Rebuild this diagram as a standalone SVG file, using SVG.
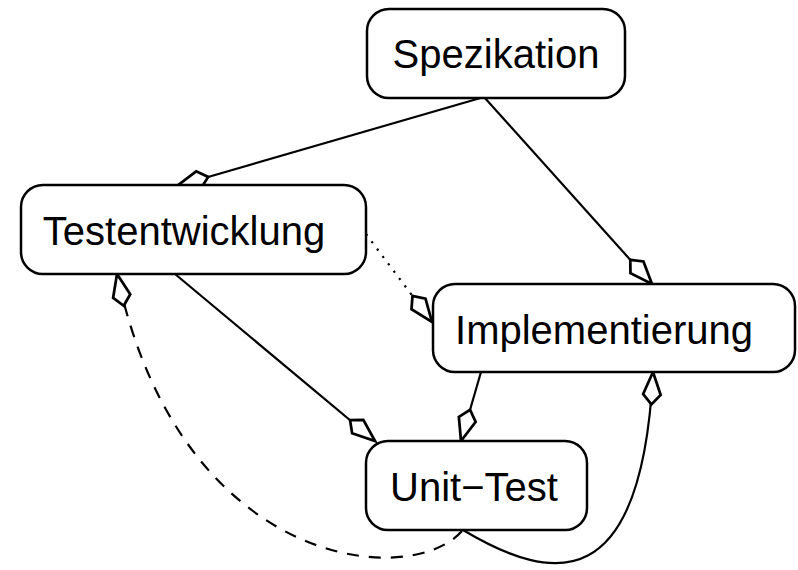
<svg xmlns="http://www.w3.org/2000/svg" width="798" height="570" viewBox="0 0 798 570">
  <defs>
    <style>
      .box { fill: #fff; stroke: #000; stroke-width: 2.5; }
      .lbl { font-family: "Liberation Sans", Arial, sans-serif; font-size: 40px; fill: #000; text-anchor: middle; }
      .edge { fill: none; stroke: #000; stroke-width: 2.2; marker-end: url(#kite); }
      .dash { stroke-dasharray: 12 10; }
      .dot { stroke-dasharray: 2.2 7; }
    </style>
    <!-- open kite-shaped arrowhead, tip at the path end -->
    <marker id="kite" markerUnits="userSpaceOnUse" orient="auto" markerWidth="40" markerHeight="40" refX="0" refY="0" viewBox="-30 -10 32 20" overflow="visible">
      <path d="M0,0 L-18,-7 L-26,0 L-18,7 Z" fill="#fff" stroke="#000" stroke-width="2.2" stroke-linejoin="miter"/>
    </marker>
  </defs>
  <rect width="798" height="570" fill="#fff"/>

  <g id="connectors">
    <path class="edge" d="M484,97 L177,186"/>
    <path class="edge" d="M484,97 L652,284"/>
    <path class="edge dot" d="M366,234 L432,322"/>
    <path class="edge" d="M175,274 L375,441"/>
    <path class="edge" d="M481,372 L461,441"/>
    <path class="edge" d="M463,530 C555,585 642,595 653,372"/>
    <path class="edge dash" d="M462,531 C410,590 180,570 117,274"/>
  </g>

  <g id="spezikation">
    <rect class="box" x="367" y="9" width="258" height="89" rx="22"/>
    <text class="lbl" x="496" y="68">Spezikation</text>
  </g>
  <g id="testentwicklung">
    <rect class="box" x="21" y="185" width="345" height="89" rx="22"/>
    <text class="lbl" x="184" y="245">Testentwicklung</text>
  </g>
  <g id="implementierung">
    <rect class="box" x="433" y="284" width="362" height="88" rx="22"/>
    <text class="lbl" x="604" y="344">Implementierung</text>
  </g>
  <g id="unit-test">
    <rect class="box" x="366" y="441" width="221" height="89" rx="22"/>
    <text class="lbl" x="474" y="501">Unit−Test</text>
  </g>
</svg>
